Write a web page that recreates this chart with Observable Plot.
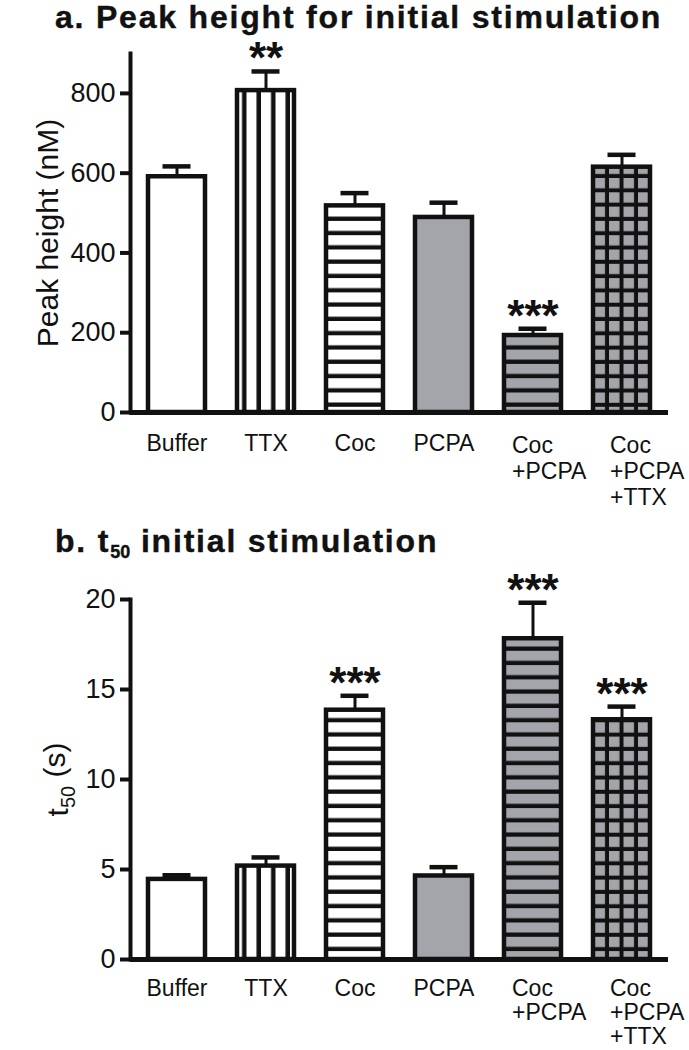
<!DOCTYPE html>
<html>
<head>
<meta charset="utf-8">
<script src="https://cdn.jsdelivr.net/npm/d3@7"></script>
<script src="https://cdn.jsdelivr.net/npm/@observablehq/plot@0.6"></script>
<style>
  body { margin: 0; background: #fff; font-family: "Liberation Sans", Arial, sans-serif; }
  #wrap { position: relative; width: 689px; height: 1050px; overflow: hidden; background: #fff; }
  .title { position: absolute; left: 55px; font-weight: bold; font-size: 32px; letter-spacing: 1.8px;
           color: #111; white-space: nowrap; line-height: 32px; -webkit-text-stroke: 0.4px #111; }
  .title sub { font-size: 18px; letter-spacing: 0; vertical-align: baseline; position: relative; top: 6px; }
  .panel { position: absolute; left: 0; }
</style>
</head>
<body>
<div id="wrap">
  <svg width="0" height="0" style="position:absolute;left:0;top:0">
    <defs>
      <pattern id="pVert" patternUnits="userSpaceOnUse" width="14.5" height="10">
        <rect width="14.5" height="10" fill="#fff"/>
        <rect x="10" width="4.5" height="10" fill="#111"/>
      </pattern>
      <pattern id="pHoriz" patternUnits="userSpaceOnUse" width="10" height="14.3">
        <rect width="10" height="14.3" fill="#fff"/>
        <rect y="10" width="10" height="4.3" fill="#111"/>
      </pattern>
      <pattern id="pHorizGray" patternUnits="userSpaceOnUse" width="10" height="14.3">
        <rect width="10" height="14.3" fill="#a3a5ab"/>
        <rect y="10" width="10" height="4.3" fill="#111"/>
      </pattern>
      <pattern id="pGrid" patternUnits="userSpaceOnUse" width="14.5" height="14.3">
        <rect width="14.5" height="14.3" fill="#a3a5ab"/>
        <rect x="10.5" width="4" height="14.3" fill="#111"/>
        <rect y="10.3" width="14.5" height="4" fill="#111"/>
      </pattern>
    </defs>
  </svg>
  <div class="title" id="titleA" style="top:1px"></div>
  <div class="panel" id="panelA" style="top:35px"></div>
  <div class="title" id="titleB" style="top:525px"></div>
  <div class="panel" id="panelB" style="top:565px"></div>
</div>
<script>
// ---------- data ----------
const categories = ["Buffer", "TTX", "Coc", "PCPA", "Coc+PCPA", "Coc+PCPA+TTX"];
const tickLabels = ["Buffer", "TTX", "Coc", "PCPA", "Coc\n+PCPA", "Coc\n+PCPA\n+TTX"];
const barFills = ["#ffffff", "url(#pVert)", "url(#pHoriz)", "#a3a5ab", "url(#pHorizGray)", "url(#pGrid)"];

const titleA = "a. Peak height for initial stimulation";
const titleB = ["b. t", "50", " initial stimulation"];

const peakMean = [591, 807, 518, 489, 193, 615];
const peakSem  = [26, 48, 32, 37, 17, 31];
const peakStars = ["", "**", "", "", "***", ""];
const peakTicks = [0, 200, 400, 600, 800];
const peakMax = 900;
const peakLabel = "Peak height (nM)";

const t50Mean = [4.45, 5.19, 13.85, 4.64, 17.82, 13.32];
const t50Sem  = [0.23, 0.48, 0.80, 0.49, 2.0, 0.73];
const t50Stars = ["", "", "***", "", "***", "***"];
const t50Ticks = [0, 5, 10, 15, 20];
const t50Max = 20;
const t50LabelParts = ["t", "50", " (s)"];

// ---------- drawing ----------
const INK = "#111";
function panel({means, sems, stars, ticks, yMax, ylabel, ylabelDx, height, marginTop, marginBottom, labelDy, labelLH}) {
  const data = categories.map((c, i) => ({
    c, mean: means[i], top: means[i] + sems[i], star: stars[i], label: tickLabels[i], fill: barFills[i]
  }));
  const single = data.filter(d => !d.label.includes("\n"));
  const multi = data.filter(d => d.label.includes("\n"));
  return Plot.plot({
    width: 689,
    height,
    marginLeft: 130,
    marginRight: 21,
    marginTop,
    marginBottom,
    style: {fontFamily: "Liberation Sans, Arial, sans-serif", color: INK, background: "transparent", overflow: "visible"},
    x: {domain: categories, paddingInner: 0.3556, paddingOuter: 0.1667, axis: null},
    y: {domain: [0, yMax], axis: null},
    color: {type: "identity"},
    marks: [
      Plot.barY(data, {x: "c", y: "mean", fill: "fill", stroke: INK, strokeWidth: 4.5, strokeLinejoin: "miter"}),
      Plot.ruleX(data, {x: "c", y1: "mean", y2: "top", stroke: INK, strokeWidth: 3}),
      Plot.tickY(data, {x: "c", y: "top", stroke: INK, strokeWidth: 4.5, insetLeft: 14.5, insetRight: 14.5}),
      Plot.text(data, {x: "c", y: "top", text: "star", fontSize: 44, fontWeight: "bold", lineAnchor: "bottom", dy: 2, fill: INK}),
      Plot.ruleY([0], {stroke: INK, strokeWidth: 5}),
      Plot.frame({anchor: "left", stroke: INK, strokeWidth: 4}),
      Plot.axisY({ticks, tickSize: 10, tickPadding: 5, strokeWidth: 4, stroke: INK, fontSize: 27, label: null, tickFormat: d => String(d)}),
      Plot.text(single, {x: "c", y: 0, text: "label", lineAnchor: "top", dy: labelDy, fontSize: 23, fill: INK}),
      Plot.text(multi.slice(0, 1), {x: "c", y: 0, text: "label", lineAnchor: "top", textAnchor: "start", dx: -21, dy: labelDy, fontSize: 23, lineHeight: labelLH, fill: INK}),
      Plot.text(multi.slice(1), {x: "c", y: 0, text: "label", lineAnchor: "top", textAnchor: "start", dx: -12, dy: labelDy, fontSize: 23, lineHeight: labelLH, fill: INK}),
      Plot.text([ylabel], {frameAnchor: "left", rotate: -90, dx: ylabelDx, fontSize: 30, textAnchor: "middle", lineAnchor: "middle", fill: INK, text: d => d})
    ]
  });
}

document.getElementById("titleA").textContent = titleA;
const tb = document.getElementById("titleB");
tb.appendChild(document.createTextNode(titleB[0]));
const sub = document.createElement("sub"); sub.textContent = titleB[1]; tb.appendChild(sub);
tb.appendChild(document.createTextNode(titleB[2]));

const chartA = panel({means: peakMean, sems: peakSem, stars: peakStars, ticks: peakTicks, yMax: peakMax,
  ylabel: peakLabel, ylabelDx: -82, height: 480, marginTop: 18, marginBottom: 103, labelDy: 22, labelLH: 1.13});
document.getElementById("panelA").appendChild(chartA);

const t50Label = t50LabelParts.join("");
const chartB = panel({means: t50Mean, sems: t50Sem, stars: t50Stars, ticks: t50Ticks, yMax: t50Max,
  ylabel: t50Label, ylabelDx: -72, height: 485, marginTop: 34, marginBottom: 91, labelDy: 20, labelLH: 1.03});
document.getElementById("panelB").appendChild(chartB);

// subscript in the panel-b axis label
d3.select(chartB).selectAll("text").filter(function() { return this.textContent === t50Label; })
  .each(function() {
    const t = d3.select(this);
    t.text(null);
    t.append("tspan").text(t50LabelParts[0]);
    t.append("tspan").attr("font-size", 20).attr("dy", "0.35em").text(t50LabelParts[1]);
    t.append("tspan").attr("dy", "-0.35em").text(t50LabelParts[2]);
  });
</script>
</body>
</html>
